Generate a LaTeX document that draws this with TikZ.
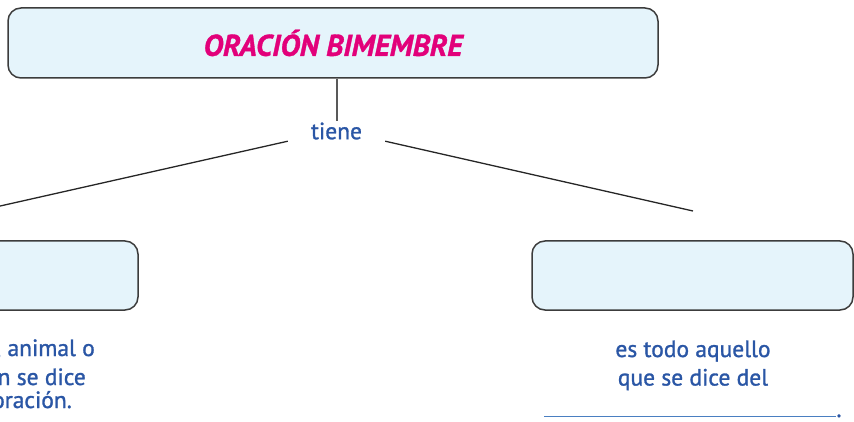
\documentclass[tikz,border=0pt]{standalone}
\usepackage{fontspec}
\setmainfont[RawFeature={embolden=1.2}]{PT Sans}
\definecolor{boxfill}{HTML}{E5F4FB}
\definecolor{boxline}{HTML}{3C3C3C}
\definecolor{titlepink}{HTML}{E2007A}
\definecolor{noteblue}{HTML}{2A56A5}
\definecolor{ruleblue}{HTML}{4A7FC1}
\begin{document}
\begin{tikzpicture}
  [ x=1pt, y=-1pt,
    box/.style={draw=boxline, fill=boxfill, line width=1.5pt,
    rounded corners=13pt, inner sep=0pt, minimum height=69pt},
    note/.style={text=noteblue, font=\fontsize{23.5}{28.5}\selectfont, inner sep=0pt},
    link/.style={draw=black!85, line width=1.3pt}
  ]
  \useasboundingbox (0,0) rectangle (854,422);

  \node (oracion) at (333,43) [box, minimum width=650pt, minimum height=70pt]
    {\fontsize{30}{32}\selectfont\bfseries\itshape\color{titlepink}ORACIÓN BIMEMBRE};
  \node (tiene) at (336.5,131) [note, minimum width=97pt, minimum height=20pt] {tiene};

  \node (sujeto)    at (-22.5,275.5) [box, minimum width=321pt] {};
  \node (predicado) at (692.5,275.5) [box, minimum width=321pt] {};

  % left note, cut at the edge
  \node (sujetoNoteA) at (95,356) [note, anchor=base east] {, animal o};
  \node (sujetoNoteB) at (86,385) [note, anchor=base east] {n se dice};
  \node (sujetoNoteC) at (72,408) [note, anchor=base east] {oración.};
  \node (predicadoNote) at (693,417) [note, anchor=base, align=center]
    {es todo aquello\\ que se dice del\\[3pt]
     {\color{ruleblue}\rule{292pt}{1.3pt}}.};

  \coordinate (sujetoTop)    at (-22,211);
  \coordinate (predicadoTop) at (693,211);

  \draw [link, draw=black!65, line width=2pt] (oracion.south -| tiene) -- (tiene.north);
  \draw [link] (tiene.south west) -- (sujetoTop);
  \draw [link] (tiene.south east) -- (predicadoTop);
\end{tikzpicture}
\end{document}
